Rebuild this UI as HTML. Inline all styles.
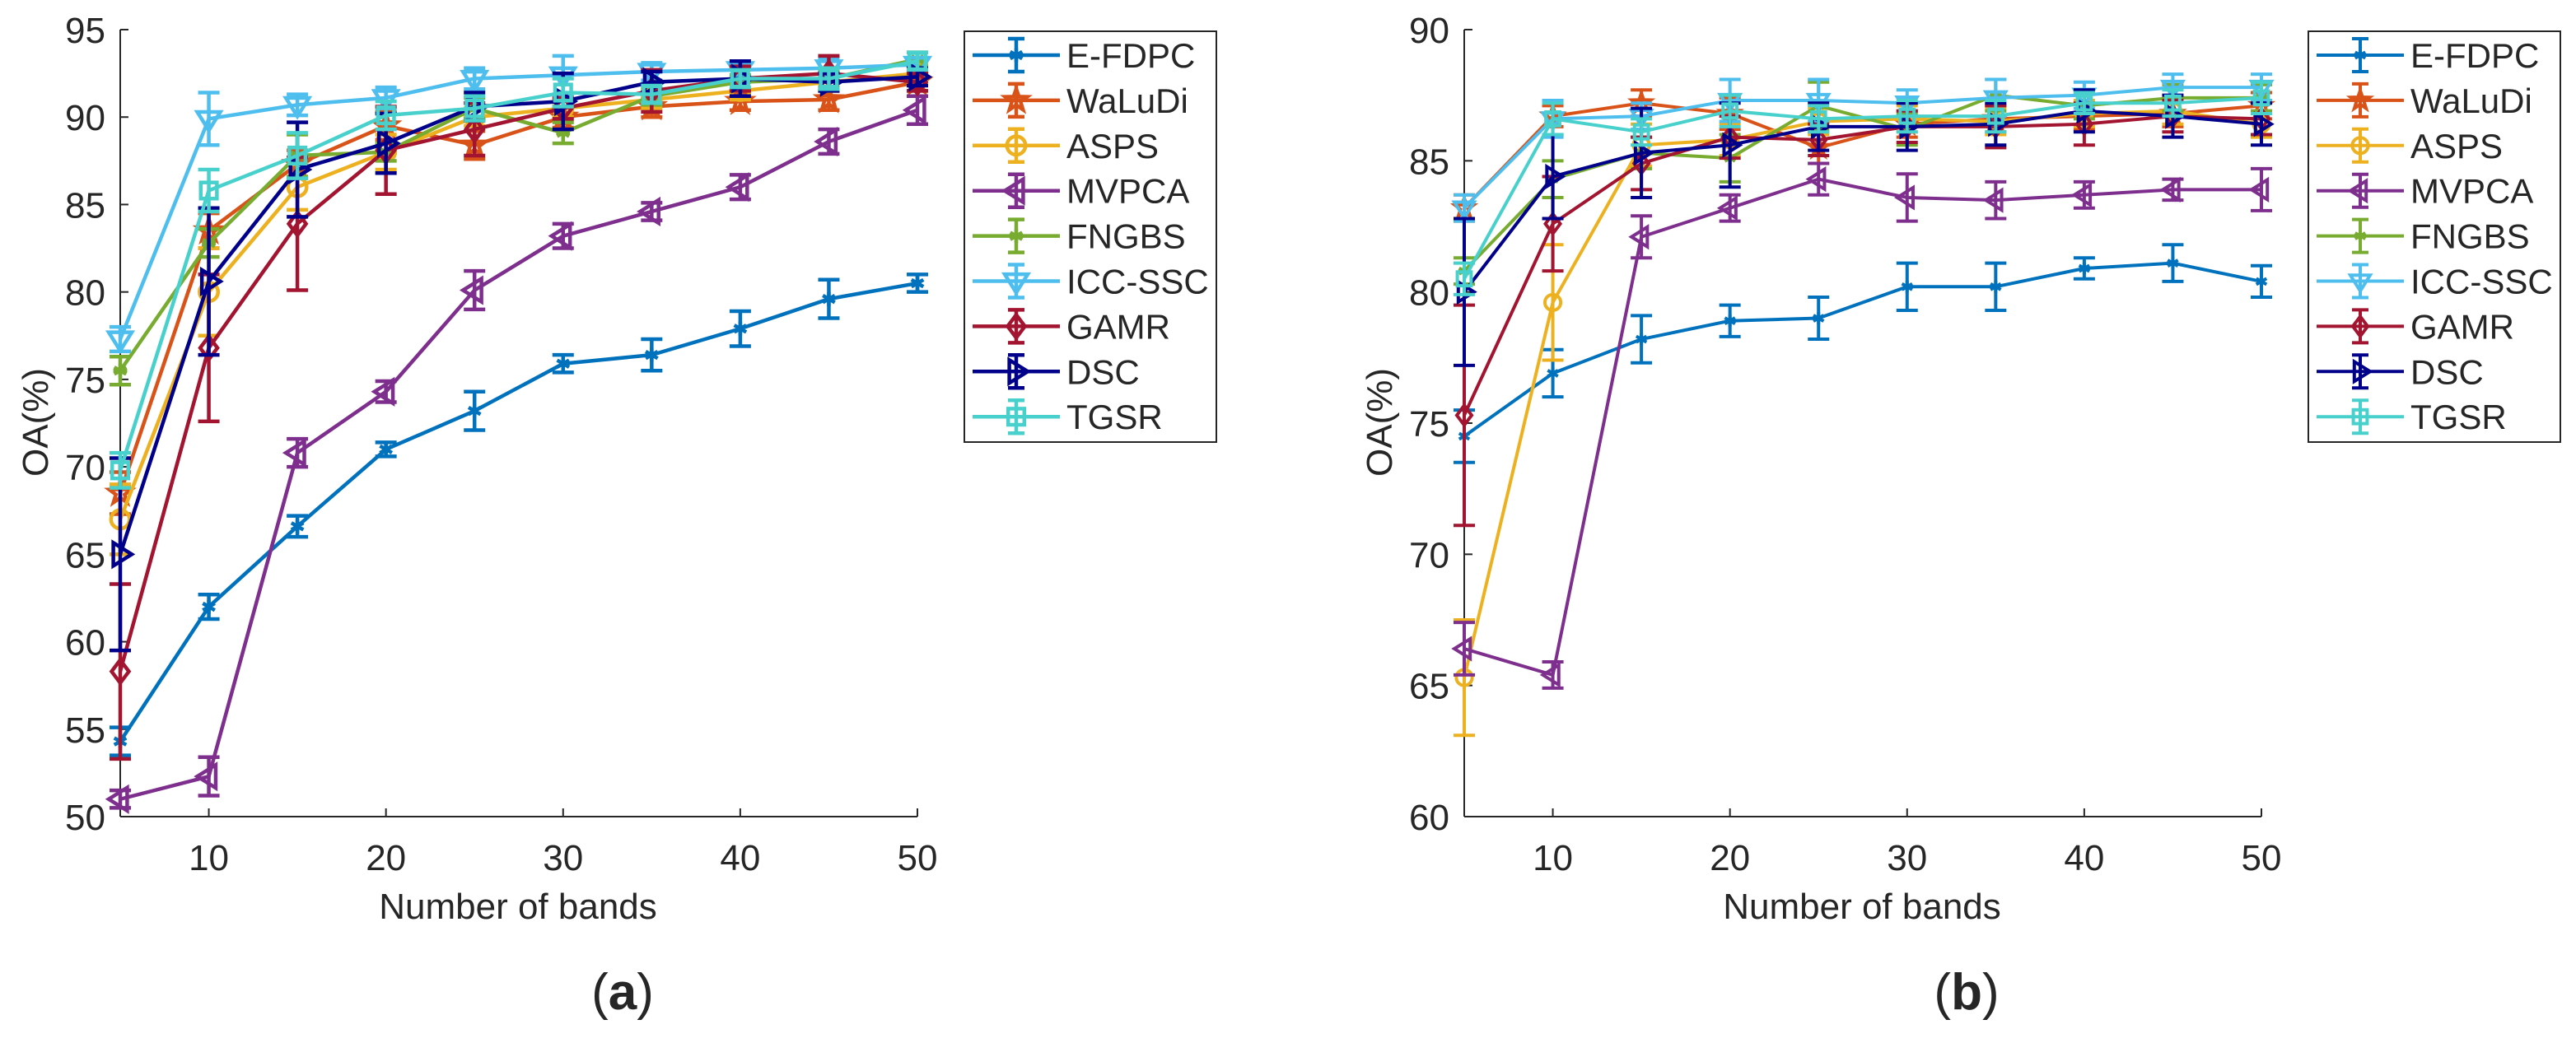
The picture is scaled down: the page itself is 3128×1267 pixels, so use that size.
<!DOCTYPE html>
<html><head><meta charset="utf-8"><style>
html,body{margin:0;padding:0;background:#fff;}
svg{display:block;}
text{font-family:"Liberation Sans",Arial,sans-serif;fill:#262626;}
</style></head><body>
<svg id="fig" width="3128" height="1267" viewBox="0 0 3128 1267" xmlns="http://www.w3.org/2000/svg"></svg>
<script>
const bands = [5,10,15,20,25,30,35,40,45,50];
const methods = ["E-FDPC","WaLuDi","ASPS","MVPCA","FNGBS","ICC-SSC","GAMR","DSC","TGSR"];
const colors = ["#0072BD","#D95319","#EDB120","#7E2F8E","#77AC30","#4DBEEE","#A2142F","#00008B","#48D1CC"];
const markers = ["star","penta","circle","left","aster","down","diamond","right","square"];
// Chart (a)
const aEFDPC = [54.3,62.0,66.6,71.0,73.2,75.9,76.4,77.9,79.6,80.5];
const aWaLuDi = [68.5,83.5,87.3,89.5,88.4,90.0,90.6,90.9,91.0,92.0];
const aASPS = [67.0,80.0,86.0,88.0,90.0,90.5,91.0,91.5,92.0,92.5];
const aMVPCA = [51.0,52.3,70.8,74.3,80.1,83.2,84.6,86.0,88.6,90.4];
const aFNGBS = [75.5,82.8,87.8,88.0,90.5,89.1,91.2,92.0,92.2,93.3];
const aICCSSC = [77.3,89.9,90.7,91.1,92.2,92.4,92.6,92.7,92.8,93.0];
const aGAMR = [58.3,76.8,83.9,88.1,89.3,90.5,91.5,92.2,92.5,92.0];
const aDSC = [65.0,80.6,87.0,88.5,90.6,90.9,92.0,92.2,92.0,92.3];
const aTGSR = [69.8,85.8,87.8,90.1,90.5,91.4,91.3,92.2,92.2,93.2];
const aErrEFDPC = [0.8,0.7,0.6,0.4,1.1,0.5,0.9,1.0,1.1,0.5];
const aErrWaLuDi = [1.2,1.0,0.8,0.8,0.8,0.6,0.6,0.5,0.6,0.5];
const aErrASPS = [2.0,2.5,1.3,1.0,0.5,0.5,0.5,0.5,0.5,0.5];
const aErrMVPCA = [0.5,1.1,0.8,0.6,1.1,0.7,0.5,0.7,0.7,0.8];
const aErrFNGBS = [0.8,0.8,1.2,0.5,0.6,0.6,0.5,0.4,0.5,0.4];
const aErrICCSSC = [0.7,1.5,0.6,0.6,0.6,1.1,0.5,0.5,0.5,0.4];
const aErrGAMR = [5.0,4.2,3.8,2.5,1.5,0.6,1.2,0.7,1.0,0.5];
const aErrDSC = [5.5,4.2,2.7,1.7,0.8,1.6,0.6,1.0,0.5,0.5];
const aErrTGSR = [1.0,1.2,1.3,0.8,0.7,0.8,0.5,0.5,0.6,0.5];
// Chart (b)
const bEFDPC = [74.5,76.9,78.2,78.9,79.0,80.2,80.2,80.9,81.1,80.4];
const bWaLuDi = [83.2,86.7,87.2,86.8,85.5,86.4,86.6,86.7,86.8,87.1];
const bASPS = [65.3,79.6,85.6,85.8,86.5,86.6,86.5,86.8,86.9,86.4];
const bMVPCA = [66.4,65.4,82.1,83.2,84.3,83.6,83.5,83.7,83.9,83.9];
const bFNGBS = [80.8,84.3,85.3,85.1,87.1,86.2,87.5,87.1,87.4,87.4];
const bICCSSC = [83.2,86.6,86.7,87.3,87.3,87.2,87.4,87.5,87.8,87.8];
const bGAMR = [75.3,82.6,84.9,85.9,85.8,86.3,86.3,86.4,86.7,86.6];
const bDSC = [80.0,84.4,85.3,85.6,86.3,86.3,86.4,86.9,86.7,86.4];
const bTGSR = [80.5,86.6,86.1,86.9,86.6,86.7,86.7,87.2,87.2,87.4];
const bErrEFDPC = [1.0,0.9,0.9,0.6,0.8,0.9,0.9,0.4,0.7,0.6];
const bErrWaLuDi = [0.5,0.4,0.5,0.6,0.6,0.5,0.5,0.5,0.5,0.5];
const bErrASPS = [2.2,2.2,0.8,0.6,0.5,0.5,0.5,0.5,0.5,0.5];
const bErrMVPCA = [1.0,0.5,0.8,0.5,0.6,0.9,0.7,0.5,0.4,0.8];
const bErrFNGBS = [0.5,0.7,0.6,0.9,0.9,0.6,0.6,0.5,0.5,0.5];
const bErrICCSSC = [0.5,0.7,0.5,0.8,0.8,0.5,0.7,0.5,0.5,0.5];
const bErrGAMR = [4.2,1.8,1.0,0.8,0.6,0.6,0.8,0.8,0.6,0.6];
const bErrDSC = [2.8,1.6,1.7,1.6,0.9,0.9,0.8,0.8,0.8,0.8];
const bErrTGSR = [0.6,0.6,0.5,0.6,0.5,0.6,0.6,0.4,0.5,0.6];
const aTicksY = [50,55,60,65,70,75,80,85,90,95];
const bTicksY = [60,65,70,75,80,85,90];
const ticksX = [10,20,30,40,50];

const NS = "http://www.w3.org/2000/svg";
const svg = document.getElementById("fig");
function el(tag, attrs, parent){const e=document.createElementNS(NS,tag);for(const k in attrs)e.setAttribute(k,attrs[k]);(parent||svg).appendChild(e);return e;}

function markerShape(g, type, cx, cy, r, color, sw){
  let e;
  const st = {stroke:color,"stroke-width":sw,fill:"none"};
  if(type==="circle"){e=el("circle",Object.assign({cx:cx,cy:cy,r:r*0.8},st),g);}
  else if(type==="square"){e=el("rect",Object.assign({x:cx-r*0.7,y:cy-r*0.7,width:r*1.4,height:r*1.4},st),g);}
  else if(type==="diamond"){e=el("polygon",Object.assign({points:`${cx},${cy-r} ${cx+r*0.75},${cy} ${cx},${cy+r} ${cx-r*0.75},${cy}`},st),g);}
  else if(type==="down"){e=el("polygon",Object.assign({points:`${cx-r},${cy-r*0.6} ${cx+r},${cy-r*0.6} ${cx},${cy+r}`},st),g);}
  else if(type==="left"){e=el("polygon",Object.assign({points:`${cx+r*0.6},${cy-r} ${cx+r*0.6},${cy+r} ${cx-r},${cy}`},st),g);}
  else if(type==="right"){e=el("polygon",Object.assign({points:`${cx-r*0.6},${cy-r} ${cx-r*0.6},${cy+r} ${cx+r},${cy}`},st),g);}
  else if(type==="penta"){let p=[];for(let i=0;i<10;i++){const a=-Math.PI/2+i*Math.PI/5;const rr=i%2?r*0.4:r;p.push((cx+rr*Math.cos(a)).toFixed(1)+","+(cy+rr*Math.sin(a)).toFixed(1));}e=el("polygon",Object.assign({points:p.join(" ")},st),g);}
  else { // star/asterisk
    const rr=r*0.6; let d="";
    for(let i=0;i<3;i++){const a=i*Math.PI/3+Math.PI/2;d+=`M${cx-rr*Math.cos(a)},${cy-rr*Math.sin(a)}L${cx+rr*Math.cos(a)},${cy+rr*Math.sin(a)}`;}
    if(type==="aster") d+=`M${cx-rr},${cy}L${cx+rr},${cy}`;
    e=el("path",Object.assign({d:d},st),g);
  }
  return e;
}

function drawChart(ox, ymin, ymax, ticksY, series, errs, label, cfg){
  const x0=ox, x1=ox+968, yTop=36, yBot=992;
  const sx=v=>x0+(v-5)/45*(x1-x0);
  const sy=v=>yBot-(v-ymin)/(ymax-ymin)*(yBot-yTop);
  const g=el("g",{});
  
  
  // axes
  const ax=el("g",{},g);
  
  
  el("line",{x1:x0,y1:yTop,x2:x0,y2:yBot,stroke:"#262626","stroke-width":2},ax);
  el("line",{x1:x0,y1:yBot,x2:x1,y2:yBot,stroke:"#262626","stroke-width":2},ax);
  ticksY.forEach(t=>{
    el("line",{x1:x0,y1:sy(t),x2:x0+10,y2:sy(t),stroke:"#262626","stroke-width":2},ax);
    const tx=el("text",{x:x0-18,y:sy(t)+16,"text-anchor":"end","font-size":cfg.fs},ax);
    tx.textContent=t;
    
    
  });
  ticksX.forEach(t=>{
    el("line",{x1:sx(t),y1:yBot,x2:sx(t),y2:yBot-10,stroke:"#262626","stroke-width":2},ax);
    const tx=el("text",{x:sx(t),y:1057,"text-anchor":"middle","font-size":cfg.fs},ax);
    tx.textContent=t;
    
    
  });
  const xl=el("text",{x:ox+483,y:1116,"text-anchor":"middle","font-size":cfg.fs},g);
  xl.textContent="Number of bands";
  
  
  const yl=el("text",{x:0,y:0,"text-anchor":"middle","font-size":cfg.fs,transform:`translate(${ox-88},513) rotate(-90)`},g);
  yl.textContent="OA(%)";
  
  
  const cap=el("text",{x:ox+610,y:1226,"text-anchor":"middle","font-size":62,"font-family":"Liberation Serif, serif"},g);
  cap.innerHTML='(<tspan font-weight="bold">'+label+'</tspan>)';
  
  
  // series
  series.forEach((vals,si)=>{
    const c=colors[si];
    const sg=el("g",{},g);
    
    
    vals.forEach((v,i)=>{
      const e=errs[si][i], x=sx(bands[i]);
      const bar=el("path",{d:`M${x},${sy(v-e)}L${x},${sy(v+e)}M${x-13},${sy(v-e)}L${x+13},${sy(v-e)}M${x-13},${sy(v+e)}L${x+13},${sy(v+e)}`,stroke:c,"stroke-width":cfg.sw,fill:"none"},sg);
      
      
    });
    const line=el("polyline",{points:vals.map((v,i)=>sx(bands[i])+","+sy(v)).join(" "),stroke:c,"stroke-width":cfg.sw,fill:"none","stroke-linejoin":"round"},sg);
    
    
    vals.forEach((v,i)=>{
      const m=markerShape(sg,markers[si],sx(bands[i]),sy(v),cfg.mr,c,cfg.sw);
      
      
    });
  });
  // legend
  const lx=ox+1025, ly=38;
  const lg=el("g",{},g);
  
  
  el("rect",{x:lx,y:ly,width:306,height:499,fill:"#fff",stroke:"#262626","stroke-width":2},lg);
  methods.forEach((m,i)=>{
    const cy=67+i*54.9, c=colors[i];
    const eg=el("g",{},lg);
    
    
    el("path",{d:`M${lx+10},${cy}L${lx+116},${cy}M${lx+63},${cy-20}L${lx+63},${cy+20}M${lx+53},${cy-20}L${lx+73},${cy-20}M${lx+53},${cy+20}L${lx+73},${cy+20}`,stroke:c,"stroke-width":cfg.sw,fill:"none"},eg);
    markerShape(eg,markers[i],lx+63,cy,cfg.mr,c,cfg.sw);
    const t=el("text",{x:lx+124,y:cy+15,"font-size":42,fill:"#000"},eg);
    t.textContent=m;
  });
}

drawChart(146,50,95,aTicksY,
  [aEFDPC,aWaLuDi,aASPS,aMVPCA,aFNGBS,aICCSSC,aGAMR,aDSC,aTGSR],
  [aErrEFDPC,aErrWaLuDi,aErrASPS,aErrMVPCA,aErrFNGBS,aErrICCSSC,aErrGAMR,aErrDSC,aErrTGSR],
  "a",{fs:44,sw:4.5,mr:14});
drawChart(1778,60,90,bTicksY,
  [bEFDPC,bWaLuDi,bASPS,bMVPCA,bFNGBS,bICCSSC,bGAMR,bDSC,bTGSR],
  [bErrEFDPC,bErrWaLuDi,bErrASPS,bErrMVPCA,bErrFNGBS,bErrICCSSC,bErrGAMR,bErrDSC,bErrTGSR],
  "b",{fs:44,sw:4,mr:12});
</script>
</body></html>
